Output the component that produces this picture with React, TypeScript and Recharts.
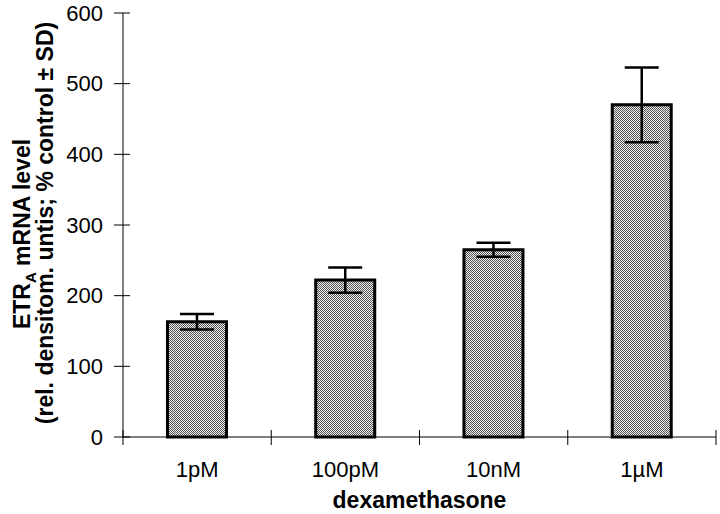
import { BarChart, Bar, XAxis, YAxis, ErrorBar } from "recharts";

const doses = ["1pM", "100pM", "10nM", "1\u00b5M"];
const mrnaLevel = [163, 222, 265, 470];
const sdValues = [11, 18, 10, 53];
const yTicks = [0, 100, 200, 300, 400, 500, 600];

const data = doses.map((dose, i) => ({
  dose,
  level: mrnaLevel[i],
  sd: sdValues[i],
}));

const FONT = "'Liberation Sans', Arial, sans-serif";

// y ticks cross the axis line
const YTick = (props: any) => {
  const { x, y, payload } = props;
  const axisX = x + 20;
  return (
    <g>
      <line x1={axisX - 9} x2={axisX + 7} y1={y} y2={y} stroke="#000" strokeWidth={1} />
      <text x={x} y={y} dy="0.35em" textAnchor="end" fontSize={22} fontFamily={FONT} fill="#000">
        {payload.value}
      </text>
    </g>
  );
};

// category label + tick marks on the band edges
const XTick = (props: any) => {
  const { x, y, payload, index, visibleTicksCount, width } = props;
  const half = payload.offset || width / visibleTicksCount / 2;
  const axisY = y - 24;
  const edges = [x - half];
  if (index === visibleTicksCount - 1) edges.push(x + half);
  return (
    <g>
      {edges.map((ex) => (
        <line key={ex} x1={ex} x2={ex} y1={axisY - 7} y2={axisY + 8} stroke="#000" strokeWidth={1} />
      ))}
      <text x={x} y={y} dy="0.71em" textAnchor="middle" fontSize={22} fontFamily={FONT} fill="#000">
        {payload.value}
      </text>
    </g>
  );
};

const YLabel = (props: any) => {
  const { viewBox } = props;
  const cy = viewBox.y + viewBox.height / 2;
  const x1 = viewBox.x + 22;
  const x2 = viewBox.x + 45;
  return (
    <g fontFamily={FONT} fontWeight="bold" fontSize={23} fill="#000">
      <text x={x1} y={cy + 9} transform={`rotate(-90, ${x1}, ${cy + 9})`} textAnchor="middle" dy="0.35em">
        ETR
        <tspan fontSize={15} dy={6}>A</tspan>
        <tspan dy={-6}> mRNA level</tspan>
      </text>
      <text x={x2} y={cy - 2} transform={`rotate(-90, ${x2}, ${cy - 2})`} textAnchor="middle" dy="0.35em">
        (rel. densitom. untis; % control ± SD)
      </text>
    </g>
  );
};

export default function App() {
  return (
    <div style={{ position: "absolute", left: 0, top: 0, background: "#fff" }}>
      <BarChart
        width={720}
        height={514}
        data={data}
        margin={{ top: 13, right: 4, bottom: 0, left: 0 }}
        barCategoryGap="30%"
      >
        <defs>
          <pattern id="dots" width={2} height={2} patternUnits="userSpaceOnUse">
            <rect x={0} y={0} width={2} height={2} fill="#eeeeee" />
            <rect x={0} y={0} width={1} height={1} fill="#555555" />
            <rect x={1} y={1} width={1} height={1} fill="#555555" />
          </pattern>
        </defs>
        <XAxis
          dataKey="dose"
          height={77}
          axisLine={{ stroke: "#000", strokeWidth: 1 }}
          tickLine={false}
          tickSize={0}
          tickMargin={24}
          tick={<XTick />}
          label={{
            value: "dexamethasone",
            position: "insideBottom",
            offset: 6,
            style: { fontSize: 23, fontWeight: "bold", fontFamily: FONT, fill: "#000" },
          }}
        />
        <YAxis
          domain={[0, 600]}
          ticks={yTicks}
          width={123}
          tickSize={0}
          tickMargin={20}
          tickLine={false}
          tick={<YTick />}
          axisLine={{ stroke: "#000", strokeWidth: 1 }}
          label={<YLabel />}
        />
        <Bar
          dataKey="level"
          fill="url(#dots)"
          stroke="#000"
          strokeWidth={3}
          isAnimationActive={false}
        >
          <ErrorBar dataKey="sd" width={17} stroke="#000" strokeWidth={2.5} isAnimationActive={false} />
        </Bar>
      </BarChart>
    </div>
  );
}
